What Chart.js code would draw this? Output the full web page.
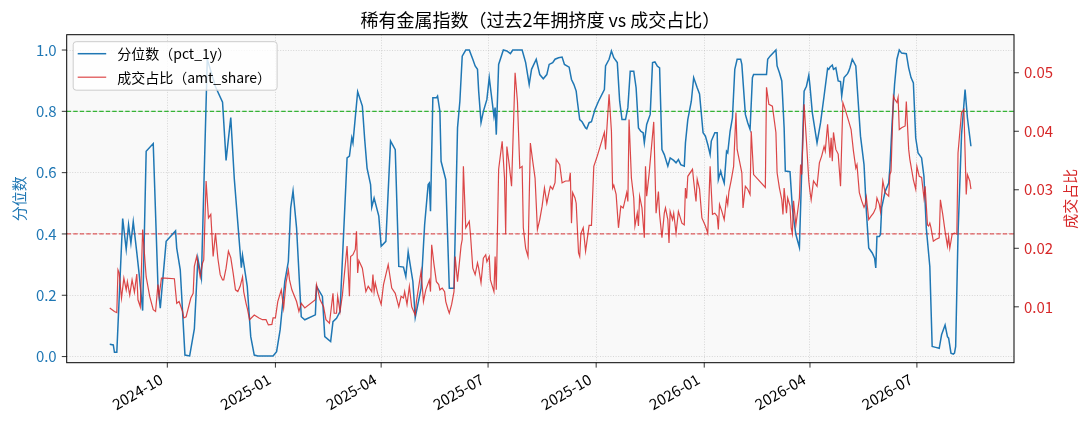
<!DOCTYPE html>
<html>
<head>
<meta charset="utf-8">
<script src="https://cdn.jsdelivr.net/npm/chart.js@4.4.1/dist/chart.umd.min.js"></script>
<style>
  html, body { margin: 0; padding: 0; background: #fff; }
  canvas { display: block; }
</style>
</head>
<body>
<canvas id="chart" width="1089" height="429"></canvas>
<script>
// 稀有金属指数: 1y percentile (left axis) vs turnover share (right axis)

var pctDates = [
  "2024-08-13","2024-08-16","2024-08-17","2024-08-19","2024-08-24","2024-08-27","2024-08-29","2024-08-31",
  "2024-09-02","2024-09-05","2024-09-07","2024-09-10","2024-09-13","2024-09-19","2024-09-23","2024-09-25","2024-09-30",
  "2024-10-08","2024-10-09","2024-10-12","2024-10-16","2024-10-20","2024-10-24","2024-10-27","2024-10-30",
  "2024-11-04","2024-11-11","2024-11-17","2024-11-20","2024-11-24","2024-11-27",
  "2024-12-03","2024-12-04","2024-12-08","2024-12-11","2024-12-14","2024-12-17","2024-12-30",
  "2025-01-02","2025-01-05","2025-01-09","2025-01-12","2025-01-14","2025-01-16","2025-01-19","2025-01-23","2025-01-26",
  "2025-02-04","2025-02-05","2025-02-10","2025-02-12","2025-02-17","2025-02-19","2025-02-22","2025-02-25",
  "2025-03-03","2025-03-05","2025-03-07","2025-03-08","2025-03-12","2025-03-16","2025-03-18","2025-03-20","2025-03-23","2025-03-24","2025-03-26","2025-03-30",
  "2025-04-01","2025-04-05","2025-04-09","2025-04-13","2025-04-16","2025-04-20","2025-04-22","2025-04-24","2025-04-28","2025-04-30",
  "2025-05-05","2025-05-08","2025-05-11","2025-05-12","2025-05-13","2025-05-15","2025-05-18","2025-05-19","2025-05-21","2025-05-22","2025-05-26","2025-05-29",
  "2025-06-02","2025-06-05","2025-06-07","2025-06-09","2025-06-12","2025-06-15","2025-06-18","2025-06-20","2025-06-22","2025-06-23","2025-06-25","2025-06-27","2025-06-30",
  "2025-07-02","2025-07-06","2025-07-07","2025-07-08","2025-07-10","2025-07-14","2025-07-17","2025-07-20","2025-07-22","2025-07-30",
  "2025-08-02","2025-08-05","2025-08-07","2025-08-11","2025-08-14","2025-08-17","2025-08-20","2025-08-22","2025-08-25","2025-08-27","2025-08-30",
  "2025-09-02","2025-09-04","2025-09-08","2025-09-10","2025-09-12","2025-09-14","2025-09-15","2025-09-17","2025-09-19","2025-09-22","2025-09-23","2025-09-25","2025-09-27","2025-09-30",
  "2025-10-03","2025-10-08","2025-10-09","2025-10-12","2025-10-14","2025-10-16","2025-10-19","2025-10-21","2025-10-23","2025-10-26","2025-10-28","2025-10-30",
  "2025-11-02","2025-11-04","2025-11-06","2025-11-08","2025-11-10","2025-11-11","2025-11-13","2025-11-16","2025-11-18","2025-11-20","2025-11-22","2025-11-24","2025-11-26","2025-11-28",
  "2025-12-01","2025-12-03","2025-12-06","2025-12-08","2025-12-10","2025-12-12","2025-12-15","2025-12-16","2025-12-18","2025-12-21","2025-12-23","2025-12-26","2025-12-28","2025-12-31",
  "2026-01-02","2026-01-04","2026-01-06","2026-01-07","2026-01-10","2026-01-12","2026-01-13","2026-01-15","2026-01-16","2026-01-18","2026-01-20","2026-01-21","2026-01-23","2026-01-25","2026-01-27","2026-01-29",
  "2026-02-01","2026-02-02","2026-02-05","2026-02-07","2026-02-09","2026-02-11","2026-02-12","2026-02-23","2026-02-24","2026-02-26",
  "2026-03-03","2026-03-04","2026-03-06","2026-03-08","2026-03-10","2026-03-11","2026-03-15","2026-03-17","2026-03-18","2026-03-20","2026-03-23","2026-03-27","2026-03-29","2026-03-31",
  "2026-04-01","2026-04-03","2026-04-07","2026-04-10","2026-04-13","2026-04-16","2026-04-17","2026-04-18","2026-04-20","2026-04-21","2026-04-23","2026-04-25","2026-04-27","2026-04-28","2026-04-30",
  "2026-05-03","2026-05-04","2026-05-05","2026-05-07","2026-05-10","2026-05-12","2026-05-14","2026-05-17","2026-05-19","2026-05-21","2026-05-24","2026-05-26","2026-05-27","2026-05-28","2026-05-30","2026-05-31",
  "2026-06-01","2026-06-04","2026-06-07","2026-06-08","2026-06-10","2026-06-12","2026-06-14","2026-06-16","2026-06-18","2026-06-22","2026-06-24","2026-06-26","2026-06-28","2026-06-30",
  "2026-07-02","2026-07-05","2026-07-07","2026-07-09","2026-07-12","2026-07-14","2026-07-17","2026-07-20","2026-07-22","2026-07-25","2026-07-27","2026-07-28","2026-07-30",
  "2026-08-01","2026-08-02","2026-08-03","2026-08-05","2026-08-08","2026-08-11","2026-08-13","2026-08-16"
];
var pctValues = [
  0.040,0.038,0.014,0.014,0.450,0.350,0.430,0.370,
  0.440,0.340,0.270,0.150,0.670,0.695,0.234,0.158,0.376,
  0.410,0.354,0.283,0.005,0.002,0.090,0.320,0.256,
  0.970,0.880,0.830,0.640,0.780,0.580,
  0.290,0.330,0.230,0.065,0.005,0.002,0.002,
  0.016,0.087,0.245,0.310,0.485,0.540,0.420,0.130,0.120,
  0.136,0.229,0.196,0.065,0.049,0.114,0.125,0.147,
  0.648,0.654,0.714,0.697,0.864,0.817,0.708,0.615,0.561,0.487,0.517,0.458,
  0.360,0.376,0.703,0.675,0.294,0.292,0.261,0.341,0.245,0.127,
  0.223,0.430,0.561,0.566,0.474,0.844,0.844,0.850,0.800,0.637,0.577,0.223,
  0.223,0.746,0.833,0.980,1.000,1.000,0.970,0.948,0.937,0.866,0.763,0.800,0.839,
  0.910,0.784,0.812,0.724,0.953,1.000,0.997,0.988,1.000,1.000,
  0.959,0.888,0.937,0.970,0.920,0.906,0.920,0.953,0.959,0.970,0.975,
  0.977,0.953,0.944,0.904,0.888,0.866,0.833,0.773,0.766,0.746,0.743,0.763,0.766,0.806,
  0.833,0.871,0.948,0.970,0.997,0.975,0.959,0.833,0.773,0.773,0.812,0.931,
  0.931,0.877,0.746,0.735,0.730,0.697,0.757,0.790,0.959,0.961,0.948,0.942,0.675,0.659,
  0.621,0.648,0.640,0.632,0.643,0.626,0.621,0.697,0.773,0.833,0.910,0.877,0.857,0.730,
  0.719,0.692,0.659,0.703,0.730,0.730,0.577,0.605,0.590,0.566,0.670,0.665,0.735,0.779,0.937,0.970,
  0.970,0.953,0.790,0.763,0.741,0.910,0.920,0.920,0.970,0.980,
  1.000,0.948,0.926,0.899,0.746,0.605,0.603,0.485,0.452,0.398,0.356,0.866,0.882,0.918,
  0.882,0.795,0.697,0.763,0.850,0.940,0.937,0.944,0.951,0.937,0.942,0.899,0.897,0.850,0.910,
  0.923,0.931,0.942,0.970,0.948,0.833,0.719,0.626,0.474,0.354,0.338,0.321,0.289,0.392,0.392,0.398,
  0.485,0.539,0.566,0.615,0.768,0.888,0.970,1.000,0.990,0.988,0.942,0.910,0.893,0.713,
  0.664,0.648,0.588,0.419,0.294,0.033,0.030,0.027,0.071,0.103,0.065,0.060,0.011,
  0.008,0.011,0.033,0.398,0.724,0.871,0.779,0.686
];

var shareDates = [
  "2024-08-13","2024-08-17","2024-08-19","2024-08-20","2024-08-21","2024-08-23","2024-08-25","2024-08-27","2024-08-28","2024-08-30",
  "2024-09-01","2024-09-03","2024-09-05","2024-09-06","2024-09-08","2024-09-10","2024-09-13","2024-09-16","2024-09-19","2024-09-21","2024-09-23","2024-09-24","2024-09-26","2024-09-29",
  "2024-10-07","2024-10-09","2024-10-11","2024-10-14","2024-10-15","2024-10-17","2024-10-21","2024-10-23","2024-10-24","2024-10-26","2024-10-29","2024-10-31",
  "2024-11-01","2024-11-03","2024-11-05","2024-11-07","2024-11-09","2024-11-11","2024-11-13","2024-11-15","2024-11-17","2024-11-18","2024-11-20","2024-11-22","2024-11-24","2024-11-26","2024-11-28","2024-11-30",
  "2024-12-02","2024-12-04","2024-12-05","2024-12-07","2024-12-08","2024-12-10","2024-12-14","2024-12-18","2024-12-21","2024-12-24","2024-12-26","2024-12-29","2024-12-30",
  "2025-01-01","2025-01-03","2025-01-06","2025-01-08","2025-01-10","2025-01-12","2025-01-13","2025-01-15","2025-01-19","2025-01-21","2025-01-23","2025-01-26",
  "2025-02-04","2025-02-05","2025-02-08","2025-02-11","2025-02-13","2025-02-16","2025-02-19","2025-02-20","2025-02-22","2025-02-23","2025-02-25","2025-02-27",
  "2025-03-03","2025-03-05","2025-03-06","2025-03-08","2025-03-10","2025-03-11","2025-03-12","2025-03-13","2025-03-16","2025-03-19","2025-03-21","2025-03-24","2025-03-25","2025-03-26","2025-03-27","2025-03-29",
  "2025-04-01","2025-04-03","2025-04-07","2025-04-10","2025-04-13","2025-04-16","2025-04-18","2025-04-20","2025-04-21","2025-04-23","2025-04-25","2025-04-27","2025-04-30",
  "2025-05-01","2025-05-03","2025-05-05","2025-05-07","2025-05-09","2025-05-12","2025-05-13","2025-05-14","2025-05-16","2025-05-18","2025-05-20","2025-05-21","2025-05-23","2025-05-25","2025-05-26","2025-05-28","2025-05-29","2025-05-31",
  "2025-06-02","2025-06-03","2025-06-05","2025-06-08","2025-06-09","2025-06-10","2025-06-12","2025-06-15","2025-06-16","2025-06-18","2025-06-20","2025-06-22","2025-06-23","2025-06-25","2025-06-27","2025-06-29","2025-06-30",
  "2025-07-02","2025-07-03","2025-07-06","2025-07-07","2025-07-08","2025-07-10","2025-07-13","2025-07-15","2025-07-16","2025-07-17","2025-07-19","2025-07-21","2025-07-24","2025-07-26","2025-07-28","2025-07-30","2025-07-31",
  "2025-08-02","2025-08-04","2025-08-06","2025-08-08","2025-08-10","2025-08-12","2025-08-14","2025-08-16","2025-08-18","2025-08-20","2025-08-22","2025-08-23","2025-08-25","2025-08-27","2025-08-28","2025-08-31",
  "2025-09-02","2025-09-05","2025-09-08","2025-09-09","2025-09-10","2025-09-11","2025-09-13","2025-09-14","2025-09-16","2025-09-17","2025-09-18","2025-09-20","2025-09-22","2025-09-25","2025-09-27","2025-09-29",
  "2025-10-02","2025-10-05","2025-10-08","2025-10-09","2025-10-12","2025-10-14","2025-10-15","2025-10-16","2025-10-18","2025-10-20","2025-10-22","2025-10-24","2025-10-25","2025-10-27","2025-10-28","2025-10-29","2025-10-31",
  "2025-11-02","2025-11-03","2025-11-05","2025-11-06","2025-11-07","2025-11-09","2025-11-11","2025-11-12","2025-11-13","2025-11-15","2025-11-19","2025-11-21","2025-11-23","2025-11-24","2025-11-26","2025-11-28","2025-11-29",
  "2025-12-01","2025-12-02","2025-12-03","2025-12-05","2025-12-06","2025-12-08","2025-12-10","2025-12-13","2025-12-15","2025-12-16","2025-12-17","2025-12-18","2025-12-22","2025-12-23","2025-12-25","2025-12-26","2025-12-28","2025-12-30",
  "2026-01-02","2026-01-04","2026-01-06","2026-01-08","2026-01-10","2026-01-12","2026-01-13","2026-01-14","2026-01-16","2026-01-18","2026-01-20","2026-01-21","2026-01-22","2026-01-24","2026-01-26","2026-01-28","2026-01-29","2026-01-31",
  "2026-02-02","2026-02-03","2026-02-05","2026-02-07","2026-02-09","2026-02-10","2026-02-12","2026-02-22","2026-02-23","2026-02-25","2026-02-28",
  "2026-03-03","2026-03-04","2026-03-06","2026-03-08","2026-03-09","2026-03-10","2026-03-12","2026-03-13","2026-03-15","2026-03-16","2026-03-17","2026-03-18","2026-03-20","2026-03-23","2026-03-24","2026-03-25","2026-03-27","2026-03-29","2026-03-31",
  "2026-04-01","2026-04-02","2026-04-04","2026-04-07","2026-04-09","2026-04-11","2026-04-13","2026-04-14","2026-04-16","2026-04-18","2026-04-19","2026-04-20","2026-04-21","2026-04-23","2026-04-25","2026-04-27","2026-04-29",
  "2026-05-01","2026-05-04","2026-05-06","2026-05-08","2026-05-10","2026-05-11","2026-05-13","2026-05-15","2026-05-17","2026-05-18","2026-05-19","2026-05-21","2026-05-23","2026-05-25","2026-05-27","2026-05-28","2026-05-30","2026-05-31",
  "2026-06-02","2026-06-04","2026-06-07","2026-06-08","2026-06-09","2026-06-11","2026-06-12","2026-06-14","2026-06-15","2026-06-16","2026-06-18","2026-06-21","2026-06-22","2026-06-24","2026-06-25","2026-06-28","2026-06-30",
  "2026-07-01","2026-07-03","2026-07-05","2026-07-07","2026-07-08","2026-07-10","2026-07-11","2026-07-12","2026-07-13","2026-07-15","2026-07-17","2026-07-20","2026-07-21","2026-07-23","2026-07-25","2026-07-27","2026-07-28","2026-07-29","2026-07-31",
  "2026-08-02","2026-08-04","2026-08-05","2026-08-08","2026-08-10","2026-08-12","2026-08-13","2026-08-15","2026-08-16"
];
var shareValues = [
  0.0098,0.0092,0.0090,0.0163,0.0158,0.0115,0.0149,0.0129,0.0143,0.0120,
  0.0146,0.0125,0.0156,0.0112,0.0100,0.0232,0.0151,0.0118,0.0095,0.0092,0.0138,0.0118,0.0149,0.0149,
  0.0148,0.0106,0.0109,0.0092,0.0081,0.0083,0.0115,0.0123,0.0169,0.0186,0.0151,0.0175,
  0.0180,0.0315,0.0252,0.0258,0.0186,0.0226,0.0183,0.0155,0.0146,0.0146,0.0166,0.0195,0.0184,0.0158,0.0129,0.0126,
  0.0135,0.0151,0.0126,0.0106,0.0098,0.0078,0.0086,0.0081,0.0078,0.0078,0.0069,0.0070,0.0081,
  0.0081,0.0109,0.0129,0.0098,0.0141,0.0163,0.0146,0.0129,0.0109,0.0092,0.0106,0.0098,
  0.0112,0.0138,0.0112,0.0100,0.0078,0.0072,0.0123,0.0089,0.0089,0.0118,0.0092,0.0120,
  0.0204,0.0118,0.0186,0.0189,0.0198,0.0229,0.0158,0.0179,0.0166,0.0126,0.0135,0.0126,0.0155,0.0126,0.0141,0.0123,
  0.0104,0.0138,0.0172,0.0132,0.0123,0.0100,0.0118,0.0115,0.0126,0.0104,0.0135,0.0100,0.0086,
  0.0109,0.0135,0.0161,0.0109,0.0129,0.0146,0.0126,0.0206,0.0172,0.0143,0.0138,0.0129,0.0132,0.0126,0.0109,0.0095,0.0089,0.0104,
  0.0126,0.0186,0.0143,0.0204,0.0215,0.0340,0.0235,0.0246,0.0224,0.0166,0.0155,0.0175,0.0166,0.0141,0.0183,0.0189,0.0177,
  0.0186,0.0146,0.0126,0.0186,0.0129,0.0335,0.0383,0.0320,0.0224,0.0374,0.0343,0.0306,0.0500,0.0451,0.0337,0.0340,0.0235,
  0.0200,0.0186,0.0380,0.0349,0.0320,0.0232,0.0249,0.0272,0.0303,0.0277,0.0297,0.0306,0.0301,0.0312,0.0352,0.0343,
  0.0312,0.0315,0.0315,0.0329,0.0243,0.0295,0.0286,0.0277,0.0192,0.0186,0.0225,0.0235,0.0195,0.0239,0.0239,0.0340,
  0.0358,0.0378,0.0398,0.0369,0.0463,0.0400,0.0303,0.0308,0.0292,0.0235,0.0272,0.0269,0.0277,0.0295,0.0280,0.0420,0.0320,
  0.0286,0.0238,0.0260,0.0238,0.0289,0.0269,0.0218,0.0340,0.0289,0.0326,0.0416,0.0260,0.0297,0.0258,0.0218,0.0260,0.0269,
  0.0249,0.0209,0.0263,0.0249,0.0260,0.0226,0.0263,0.0243,0.0240,0.0303,0.0285,0.0323,0.0335,0.0315,0.0280,0.0318,0.0301,0.0252,
  0.0238,0.0226,0.0340,0.0258,0.0260,0.0255,0.0232,0.0275,0.0263,0.0249,0.0286,0.0275,0.0297,0.0317,0.0340,0.0432,0.0369,0.0349,
  0.0329,0.0269,0.0306,0.0301,0.0292,0.0400,0.0326,0.0304,0.0475,0.0446,0.0443,
  0.0398,0.0329,0.0303,0.0283,0.0258,0.0303,0.0260,0.0286,0.0272,0.0235,0.0225,0.0281,0.0240,0.0286,0.0343,0.0326,0.0446,0.0383,0.0315,
  0.0297,0.0283,0.0315,0.0306,0.0346,0.0358,0.0374,0.0366,0.0412,0.0355,0.0389,0.0349,0.0398,0.0369,0.0361,0.0306,0.0449,
  0.0437,0.0417,0.0403,0.0366,0.0337,0.0343,0.0295,0.0281,0.0270,0.0275,0.0287,0.0249,0.0255,0.0260,0.0269,0.0286,0.0275,0.0263,
  0.0315,0.0295,0.0289,0.0326,0.0332,0.0460,0.0455,0.0449,0.0458,0.0403,0.0406,0.0409,0.0451,0.0369,0.0352,0.0317,0.0301,
  0.0340,0.0323,0.0321,0.0286,0.0306,0.0240,0.0238,0.0243,0.0235,0.0212,0.0215,0.0218,0.0283,0.0258,0.0229,0.0204,0.0220,0.0200,0.0224,
  0.0226,0.0224,0.0363,0.0432,0.0437,0.0292,0.0326,0.0315,0.0301
];

var xTickLabels = ["2024-10", "2025-01", "2025-04", "2025-07", "2025-10", "2026-01", "2026-04", "2026-07"];
var pctTicks = [0.0, 0.2, 0.4, 0.6, 0.8, 1.0];
var shareTicks = [0.01, 0.02, 0.03, 0.04, 0.05];
var refLevels = [0.8, 0.4];

var FONT = '"Noto Sans CJK SC", "Noto Sans", sans-serif';
var BLUE = "#1f77b4";
var RED = "#d62728";
var SHARE_LINE = "rgba(214,39,40,0.85)";
var refColors = ["#36b336", "rgba(214,39,40,0.75)"];

// plot box, in canvas pixels
var box = { left: 66.7, right: 1014, top: 34.7, bottom: 362.7 };

function toDay(s) {
  var p = s.split("-");
  return Date.UTC(+p[0], +p[1] - 1, p[2] ? +p[2] : 1) / 86400000;
}

var pctPoints = pctDates.map(function (d, i) { return { x: toDay(d), y: pctValues[i] }; });
var sharePoints = shareDates.map(function (d, i) { return { x: toDay(d), y: shareValues[i] }; });

var first = toDay(pctDates[0]);
var last = toDay(pctDates[pctDates.length - 1]);
var span = last - first;

var decor = {
  id: "decor",
  beforeDraw: function (chart) {
    var ctx = chart.ctx, a = chart.chartArea;
    ctx.save();
    ctx.fillStyle = "#ffffff";
    ctx.fillRect(0, 0, chart.width, chart.height);
    ctx.fillStyle = "#f9f9f9";
    ctx.fillRect(a.left, a.top, a.right - a.left, a.bottom - a.top);
    ctx.restore();
  },
  beforeDatasetsDraw: function (chart) {
    var ctx = chart.ctx, a = chart.chartArea, ys = chart.scales.y;
    ctx.save();
    ctx.lineWidth = 1.2;
    ctx.setLineDash([4.5, 2]);
    refLevels.forEach(function (v, i) {
      var py = ys.getPixelForValue(v);
      ctx.strokeStyle = refColors[i];
      ctx.beginPath();
      ctx.moveTo(a.left, py);
      ctx.lineTo(a.right, py);
      ctx.stroke();
    });
    ctx.restore();
  },
  afterDraw: function (chart) {
    var ctx = chart.ctx, a = chart.chartArea;
    var xs = chart.scales.x, ys = chart.scales.y, y2 = chart.scales.y1;
    ctx.save();

    // frame
    ctx.strokeStyle = "#000";
    ctx.lineWidth = 1;
    ctx.strokeRect(a.left, a.top, a.right - a.left, a.bottom - a.top);

    // tick marks
    ctx.lineWidth = 0.8;
    ctx.beginPath();
    xs.ticks.forEach(function (t) {
      var px = xs.getPixelForValue(t.value);
      ctx.moveTo(px, a.bottom); ctx.lineTo(px, a.bottom + 4.9);
    });
    ys.ticks.forEach(function (t) {
      var py = ys.getPixelForValue(t.value);
      ctx.moveTo(a.left - 4.9, py); ctx.lineTo(a.left, py);
    });
    y2.ticks.forEach(function (t) {
      var py = y2.getPixelForValue(t.value);
      ctx.moveTo(a.right, py); ctx.lineTo(a.right + 4.9, py);
    });
    ctx.stroke();

    // title
    ctx.fillStyle = "#000";
    ctx.font = "18px " + FONT;
    ctx.textAlign = "center";
    ctx.textBaseline = "middle";
    ctx.fillText("稀有金属指数（过去2年拥挤度 vs 成交占比）", (a.left + a.right) / 2, 20);

    // axis titles
    var midY = (a.top + a.bottom) / 2;
    ctx.font = "15px " + FONT;
    ctx.fillStyle = BLUE;
    ctx.save();
    ctx.translate(19, midY);
    ctx.rotate(-Math.PI / 2);
    ctx.fillText("分位数", 0, 0);
    ctx.restore();
    ctx.fillStyle = RED;
    ctx.save();
    ctx.translate(1070, midY);
    ctx.rotate(-Math.PI / 2);
    ctx.fillText("成交占比", 0, 0);
    ctx.restore();

    // legend
    var items = [
      { text: "分位数（pct_1y）", color: BLUE, width: 1.5 },
      { text: "成交占比（amt_share）", color: SHARE_LINE, width: 1.2 }
    ];
    ctx.font = "14px " + FONT;
    var tw = 0;
    items.forEach(function (it) { tw = Math.max(tw, ctx.measureText(it.text).width); });
    var lx = a.left + 6.5, ly = a.top + 7;
    var lw = 45 + tw + 5, lh = 48.5;
    ctx.beginPath();
    if (ctx.roundRect) ctx.roundRect(lx, ly, lw, lh, 3); else ctx.rect(lx, ly, lw, lh);
    ctx.fillStyle = "rgba(255,255,255,0.8)";
    ctx.fill();
    ctx.strokeStyle = "#cccccc";
    ctx.lineWidth = 1;
    ctx.stroke();
    ctx.textAlign = "left";
    items.forEach(function (it, i) {
      var ry = ly + 12 + i * 23.5;
      ctx.strokeStyle = it.color;
      ctx.lineWidth = it.width;
      ctx.beginPath();
      ctx.moveTo(lx + 4.5, ry);
      ctx.lineTo(lx + 33, ry);
      ctx.stroke();
      ctx.fillStyle = "#000";
      ctx.fillText(it.text, lx + 44, ry);
    });

    ctx.restore();
  }
};

Chart.defaults.font.family = FONT;

new Chart(document.getElementById("chart"), {
  type: "line",
  data: {
    datasets: [
      {
        label: "分位数（pct_1y）",
        data: pctPoints,
        yAxisID: "y",
        borderColor: BLUE,
        borderWidth: 1.5,
        pointRadius: 0,
        tension: 0,
        order: 2
      },
      {
        label: "成交占比（amt_share）",
        data: sharePoints,
        yAxisID: "y1",
        borderColor: SHARE_LINE,
        borderWidth: 1.2,
        pointRadius: 0,
        tension: 0,
        order: 1
      }
    ]
  },
  options: {
    responsive: false,
    animation: false,
    devicePixelRatio: 1,
    layout: { padding: { top: box.top, left: 0, right: 0, bottom: 0 } },
    plugins: {
      legend: { display: false },
      title: { display: false },
      tooltip: { enabled: false }
    },
    scales: {
      x: {
        type: "linear",
        min: first - 0.05 * span,
        max: last + 0.05 * span,
        afterBuildTicks: function (s) {
          s.ticks = xTickLabels.map(function (m) { return { value: toDay(m) }; });
        },
        afterFit: function (s) {
          s.height = 429 - box.bottom;
          s.paddingLeft = 0; s.paddingRight = 0;
        },
        ticks: {
          autoSkip: false,
          minRotation: 30,
          maxRotation: 30,
          padding: 7.5,
          labelOffset: -6,
          color: "#000",
          font: { size: 15 },
          callback: function (v, i) { return xTickLabels[i]; }
        },
        grid: { color: "rgba(176,176,176,0.6)", lineWidth: 0.8, drawTicks: false },
        border: { display: false, dash: [1, 1.6] }
      },
      y: {
        position: "left",
        min: -0.02,
        max: 1.05,
        afterBuildTicks: function (s) {
          s.ticks = pctTicks.map(function (v) { return { value: v }; });
        },
        afterFit: function (s) {
          s.width = box.left;
          s.paddingTop = 0; s.paddingBottom = 0;
        },
        ticks: {
          padding: 10,
          color: BLUE,
          font: { size: 15 },
          callback: function (v) { return v.toFixed(1); }
        },
        grid: { color: "rgba(176,176,176,0.6)", lineWidth: 0.8, drawTicks: false },
        border: { display: false, dash: [1, 1.6] }
      },
      y1: {
        position: "right",
        min: 0.00045,
        max: 0.0565,
        afterBuildTicks: function (s) {
          s.ticks = shareTicks.map(function (v) { return { value: v }; });
        },
        afterFit: function (s) {
          s.width = 1089 - box.right;
          s.paddingTop = 0; s.paddingBottom = 0;
        },
        ticks: {
          padding: 10,
          color: RED,
          font: { size: 15 },
          callback: function (v) { return v.toFixed(2); }
        },
        grid: { drawOnChartArea: false, drawTicks: false },
        border: { display: false }
      }
    }
  },
  plugins: [decor]
});
</script>
</body>
</html>
